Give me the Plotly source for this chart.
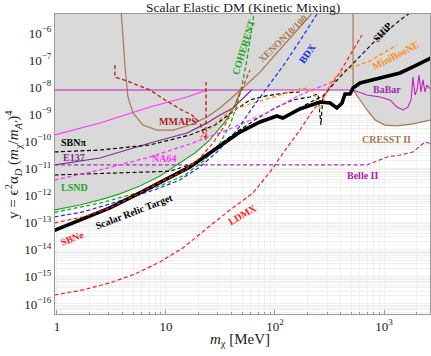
import plotly.graph_objects as go

# ---------------- data: dark-matter mass m_chi [MeV] and y ----------------
relic_m = [0.95, 1.73, 3.06, 5.77, 9.8, 16.6, 29.4, 47.8, 72.8, 104, 118, 169, 259, 320, 370, 412, 439, 488, 520, 603, 918, 1403, 1924, 2700]
relic_y = [5.2e-14, 1.37e-13, 3.5e-13, 1.25e-12, 3.8e-12, 1.14e-11, 5.7e-11, 2.2e-10, 5.2e-10, 8.65e-10, 7.3e-10, 1.57e-9, 2.84e-9, 2.6e-9, 1.71e-9, 2.6e-9, 5.6e-9, 5.6e-9, 9.3e-9, 1.43e-8, 2.18e-8, 3.34e-8, 6.05e-8, 1.19e-7]

ldmx_m = [0.95, 1.73, 3.06, 5.2, 8.81, 14.3, 22.8, 38.6, 62.8, 90, 124, 169, 218, 288, 395, 509, 628]
ldmx_y = [2.15e-16, 3.3e-16, 5.95e-16, 1.28e-15, 3.55e-15, 1.17e-14, 5.4e-14, 2.94e-13, 1.25e-12, 7.4e-12, 4.8e-11, 2.6e-10, 1.22e-9, 5.15e-9, 3.6e-8, 2.0e-7, 8.4e-7]

sbne_m = [0.95, 1.73, 3.06, 5.77, 9.8, 14.9, 20.5, 27.0, 34.8, 43.0, 50.8, 59.0]
sbne_y = [9.8e-14, 1.62e-13, 3.5e-13, 1.25e-12, 3.77e-12, 8.8e-12, 2.44e-11, 8.7e-11, 4.0e-10, 2.2e-9, 1.02e-8, 4.3e-8]

bdx_m = [0.95, 1.73, 3.06, 4.98, 8.27, 13.4, 20.5, 29.4, 44.8, 62.8, 90, 124, 169, 243]
bdx_y = [1.62e-13, 2.5e-13, 4.9e-13, 8.9e-13, 1.75e-12, 3.77e-12, 1.14e-11, 4.06e-11, 2.6e-10, 1.86e-9, 1.31e-8, 7.8e-8, 5.1e-7, 5.0e-6]

coherent_m = [0.95, 2.48, 4.67, 8.81, 14.9, 22.8, 31.3, 38.6, 44.8, 49.8, 55.3, 60.2, 64.1]
coherent_y = [2.4e-13, 5.3e-13, 1.05e-12, 2.26e-12, 5.75e-12, 2.06e-11, 8.7e-11, 4.0e-10, 2.2e-9, 1.2e-8, 1.01e-7, 8.4e-7, 5.0e-6]

lsnd_m = [0.95, 1.625, 2.48, 3.78, 5.77, 8.81, 13.4, 18.4, 25.3, 34.8, 43.0, 48.8]
lsnd_y = [2.94e-13, 4.5e-13, 6.9e-13, 1.15e-12, 2.26e-12, 5.3e-12, 1.6e-11, 3.7e-11, 1.13e-10, 5.2e-10, 2.2e-9, 7.9e-9]

e137_m = [0.95, 2.48, 7.13, 15.6, 23.8, 31.3, 41.2, 61.0]
e137_y = [1.35e-11, 2.44e-11, 8.7e-11, 2.04e-10, 4.8e-10, 9.4e-10, 1.71e-9, 7.9e-9]

sbnpi_m = [0.95, 2.48, 7.13, 16.6, 28.2, 43.0, 59.0, 81.0, 124, 169]
sbnpi_y = [4.06e-11, 4.8e-11, 7.4e-11, 1.72e-10, 4.0e-10, 1.44e-9, 3.37e-9, 4.7e-9, 6.1e-9, 6.65e-9]

other_m = [0.95, 3.78, 10.9, 18.4, 28.2, 43.0, 65.6, 100, 146, 209, 248, 264, 275]
other_y = [5.75e-12, 6.8e-12, 7.9e-12, 1.6e-11, 5.7e-11, 2.04e-10, 6.2e-10, 1.71e-9, 3.37e-9, 4.35e-9, 5.6e-9, 4.0e-10, 4.7e-9]

ship_m = [188, 275, 320, 395, 793, 1403, 1733]
ship_y = [2.2e-9, 4.7e-9, 9.3e-9, 2.38e-8, 4.3e-7, 3.0e-6, 5.5e-6]

na64_m = [0.95, 2.48, 7.13, 16.6, 38.6, 84.5, 169, 259, 370]
na64_y = [3.77e-12, 8.8e-12, 2.65e-11, 8.0e-11, 2.87e-10, 1.12e-9, 5.15e-9, 1.02e-8, 1.85e-8]

na64old_m = [0.95, 2.48, 7.13, 15.6, 23.8]
na64old_y = [1.72e-10, 4.8e-10, 1.86e-9, 4.35e-9, 7.9e-9]

babar_m = [0.95, 520, 698, 918, 1135, 1316, 1493, 1660, 1770, 1845, 1924, 2009, 2094, 2184, 2279, 2377, 2479, 2700]
babar_y = [7.9e-9, 7.9e-9, 5.15e-9, 4.35e-9, 3.37e-9, 1.86e-9, 1.44e-9, 1.86e-9, 3.37e-9, 2.38e-8, 5.15e-9, 7.9e-9, 2.8e-8, 6.65e-9, 1.85e-8, 6.65e-9, 1.2e-8, 7.9e-9]

cresst_m = [520, 520, 603, 698, 827, 1021, 1316, 1845, 2700]
cresst_y = [1e-5, 7.9e-9, 3.37e-9, 1.44e-9, 6.2e-10, 4.0e-10, 3.7e-10, 4.4e-10, 6.2e-10]

xenon_m = [3.85, 4.21, 4.48, 4.98, 6.15, 8.27, 11.6, 16.6, 23.8, 31.3, 50.8, 72.8, 100, 137, 169, 225]
xenon_y = [1e-5, 5.6e-8, 4.35e-9, 1.12e-9, 4.0e-10, 2.6e-10, 2.6e-10, 4.0e-10, 7.9e-10, 1.71e-9, 9.3e-9, 3.6e-8, 1.54e-7, 6.5e-7, 1.66e-6, 6e-6]

belle_m = [0.95, 698, 1066, 1403, 1845, 2138, 2377, 2700]
belle_y = [1.35e-11, 1.35e-11, 2.65e-11, 3.15e-11, 4.06e-11, 6.8e-11, 9.5e-11, 8.0e-11]

mini_m = [20.5, 29.4, 38.6, 59.0, 84.5, 124, 169, 201, 228, 259, 294, 333, 439, 744, 1316]
mini_y = [1.33e-10, 5.2e-10, 1.32e-9, 2.4e-9, 3.67e-9, 6.1e-9, 8.6e-9, 9.3e-9, 6.1e-9, 1.44e-9, 6.1e-9, 1.85e-8, 4.3e-8, 9.3e-8, 3.6e-7]

mmaps_m = [3.40, 3.40, 4.39, 7.13, 9.79, 13.4, 17.3, 20.5, 22.3, 23.3, 23.3]
mmaps_y = [6.6e-8, 2.38e-8, 1.69e-8, 7.9e-9, 3.37e-9, 1.57e-9, 9.4e-10, 4.8e-10, 1.72e-10, 1.13e-10, 1.56e-8]

x_ticks = [1, 10, 100, 1000]
x_ticktext = ["1", "10", "10<sup>2</sup>", "10<sup>3</sup>"]
y_exps = list(range(-16, -5))

# ---------------- colours ----------------
GREEN = "#22a622"
BROWN = "#a67a52"
BLUE = "#1030ff"
ORANGE = "#ff8c1a"
RED = "#ff1a1a"
DARKRED = "#b3201c"
MAGENTA = "#ff33ff"
BABAR = "#c020c0"
PURPLE = "#7a2f8e"
BELLE = "#a62db3"
DASH = "4px,2.5px"

fig = go.Figure()

# excluded (grey) region: above LSND, BaBar and CRESST
gray_m = lsnd_m + [babar_m[1]] + cresst_m[2:] + [3000, 3000, 0.9, 0.9]
gray_y = lsnd_y + [babar_y[1]] + cresst_y[2:] + [cresst_y[-1], 1e-5, 1e-5, lsnd_y[0]]
fig.add_trace(go.Scatter(x=gray_m, y=gray_y, mode="lines", fill="toself",
                         fillcolor="#d9d9d9", line=dict(width=0), hoverinfo="skip"))


def add(xs, ys, color, width=1.2, dash=None):
    fig.add_trace(go.Scatter(x=xs, y=ys, mode="lines", hoverinfo="skip",
                             line=dict(color=color, width=width, dash=dash)))


add(xenon_m, xenon_y, BROWN, 1.2)
add(cresst_m, cresst_y, BROWN, 1.2)
add(babar_m, babar_y, BABAR, 1.1)
add(na64old_m, na64old_y, MAGENTA, 1.1)
add(belle_m, belle_y, BELLE, 1.2, DASH)
add(e137_m, e137_y, PURPLE, 1.2)
add(lsnd_m, lsnd_y, GREEN, 1.2)
add(mmaps_m, mmaps_y, DARKRED, 1.3, DASH)
add(sbnpi_m, sbnpi_y, "black", 1.2, DASH)
add(other_m, other_y, "black", 1.1, DASH)
add(na64_m, na64_y, MAGENTA, 1.3, DASH)
add(mini_m, mini_y, ORANGE, 1.3, DASH)
add(ship_m, ship_y, "black", 1.1, DASH)
add(coherent_m, coherent_y, GREEN, 1.3, DASH)
add(bdx_m, bdx_y, BLUE, 1.2, DASH)
add(ldmx_m, ldmx_y, RED, 1.2, DASH)
add(relic_m, relic_y, "black", 3.6)
add(sbne_m, sbne_y, RED, 1.2, DASH)

# ---------------- axes ----------------
FONT = "Liberation Serif"
GRID = "#efefef"
fig.update_xaxes(type="log", range=[-0.018, 3.422], automargin=False,
                 tickmode="array", tickvals=x_ticks, ticktext=x_ticktext,
                 ticks="inside", ticklen=4, tickcolor="#999", tickwidth=1,
                 showgrid=True, gridcolor=GRID, gridwidth=1, zeroline=False,
                 minor=dict(ticks="inside", ticklen=2.5, tickcolor="#999", dtick="D1",
                            showgrid=True, gridcolor=GRID, gridwidth=1),
                 showline=True, linecolor="#999", linewidth=1, mirror=True,
                 tickfont=dict(family=FONT, size=13, color="#222"))
fig.update_yaxes(type="log", range=[-16.37, -5.30], automargin=False,
                 tickmode="array", tickvals=[10.0 ** e for e in y_exps],
                 ticktext=["10<sup>\u2212%d</sup>" % (-e) for e in y_exps],
                 ticks="", showgrid=True, gridcolor=GRID, gridwidth=1, zeroline=False,
                 minor=dict(ticks="", dtick="D1", showgrid=True, gridcolor=GRID, gridwidth=1),
                 showline=True, linecolor="#999", linewidth=1, mirror=True,
                 tickfont=dict(family=FONT, size=13, color="#222"))

# ---------------- labels ----------------
labels = [
    ("COHERENT", 0.504, 0.89, -73, GREEN),
    ("XENON10/100", 0.608, 0.917, -44, BROWN),
    ("BDX", 0.672, 0.87, -55, BLUE),
    ("SHiP", 0.872, 0.94, -48, "black"),
    ("MiniBooNE", 0.907, 0.863, -27, ORANGE),
    ("BaBar", 0.885, 0.747, 0, "#9b2ab0"),
    ("MMAPS", 0.328, 0.643, 0, DARKRED),
    ("SBN\u03c0", 0.048, 0.573, 0, "black"),
    ("E137", 0.051, 0.523, 0, PURPLE),
    ("NA64", 0.291, 0.52, 0, MAGENTA),
    ("LSND", 0.053, 0.423, 0, GREEN),
    ("Scalar Relic Target", 0.211, 0.343, -21, "black"),
    ("SBNe", 0.045, 0.253, -21, RED),
    ("LDMX", 0.501, 0.33, -30, RED),
    ("CRESST II", 0.883, 0.583, 0, BROWN),
    ("Belle II", 0.819, 0.463, 0, "#b020b0"),
]
for text, xp, yp, ang, col in labels:
    fig.add_annotation(x=xp, y=yp, xref="paper", yref="paper", text="<b>%s</b>" % text,
                       showarrow=False, textangle=ang, xanchor="center", yanchor="middle",
                       font=dict(family=FONT, size=10, color=col))

fig.add_annotation(x=0.501, y=1.02, xref="paper", yref="paper", showarrow=False,
                   xanchor="center", yanchor="middle",
                   text="Scalar Elastic DM (Kinetic Mixing)",
                   font=dict(family=FONT, size=13.5, color="#222"))
fig.add_annotation(x=0.493, y=-0.087, xref="paper", yref="paper", showarrow=False,
                   xanchor="center", yanchor="middle",
                   text="<i>m</i><sub>\u03c7</sub> [MeV]",
                   font=dict(family=FONT, size=15, color="#222"))
fig.add_annotation(x=-0.112, y=0.497, xref="paper", yref="paper", showarrow=False, textangle=-90,
                   xanchor="center", yanchor="middle",
                   text="y = \u03f5<sup>2</sup>\u03b1<sub><i>D</i></sub> (<i>m</i><sub>\u03c7</sub>/<i>m</i><sub><i>A'</i></sub>)<sup>4</sup>",
                   font=dict(family=FONT, size=15, color="#222"))

fig.update_layout(width=431, height=356, margin=dict(l=55, r=1, t=14, b=42),
                  paper_bgcolor="white", plot_bgcolor="white", showlegend=False)

fig.write_html("out.html", config={"displayModeBar": False},
               post_script="document.body.style.margin='0px';document.body.style.overflow='hidden';")
